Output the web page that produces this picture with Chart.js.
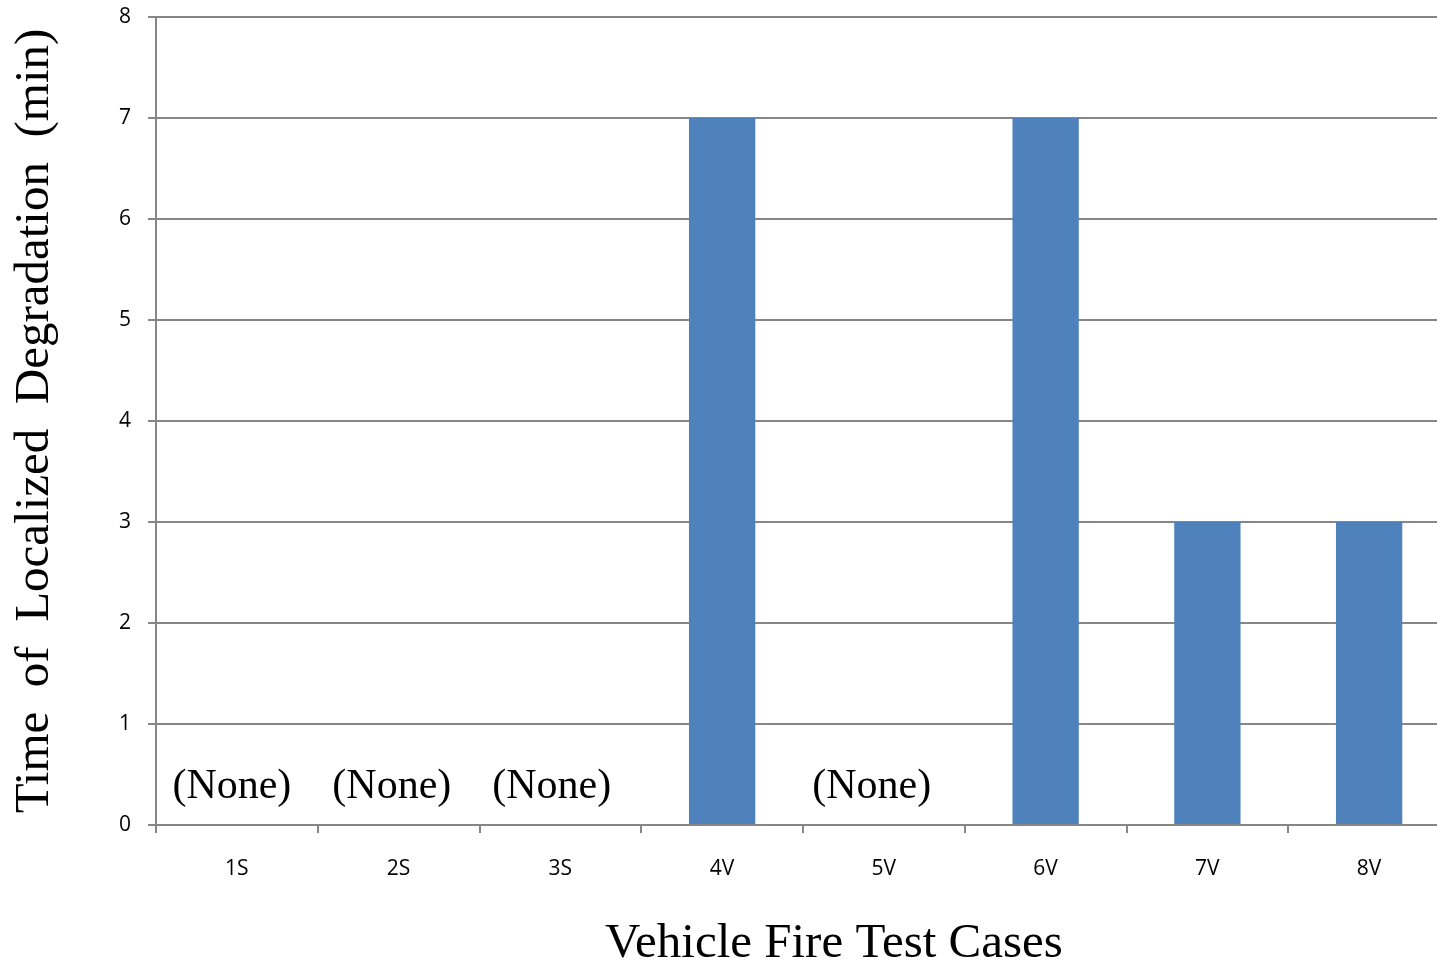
<!DOCTYPE html>
<html>
<head>
<meta charset="utf-8">
<script src="https://cdn.jsdelivr.net/npm/chart.js@4/dist/chart.umd.min.js"></script>
<style>
  html, body { margin: 0; padding: 0; background: #ffffff; overflow: hidden; }
  #wrap { width: 1437px; height: 964px; position: relative; overflow: hidden; }
</style>
</head>
<body>
<div id="wrap"><canvas id="c" width="1450" height="964"></canvas></div>
<script>
// ---- Data ----
const categories = ['1S', '2S', '3S', '4V', '5V', '6V', '7V', '8V'];
const degradationMinutes = [null, null, null, 7, null, 7, 3, 3];
const noneLabel = '(None)';
const yTicks = [0, 1, 2, 3, 4, 5, 6, 7, 8];
const yTitle = 'Time  of  Localized  Degradation  (min)';
const xTitle = 'Vehicle Fire Test Cases';

const gridColor = '#868686';
const barColor = '#4F81BD';

const noneLabelsPlugin = {
  id: 'noneLabels',
  afterDatasetsDraw(chart) {
    const ctx = chart.ctx;
    const xs = chart.scales.x, ys = chart.scales.y;
    ctx.save();
    ctx.font = '42px "Liberation Serif", "Times New Roman", serif';
    ctx.fillStyle = '#000';
    ctx.textAlign = 'center';
    ctx.textBaseline = 'middle';
    degradationMinutes.forEach((v, i) => {
      if (v === null) {
        ctx.fillText(noneLabel, xs.getPixelForValue(i) - 5 - 1.8 * i, ys.getPixelForValue(0.38));
      }
    });
    // x-axis title
    ctx.font = '49px "Liberation Serif", "Times New Roman", serif';
    ctx.fillText(xTitle, 834, 944);
    ctx.restore();
  }
};

new Chart(document.getElementById('c'), {
  type: 'bar',
  data: {
    labels: categories,
    datasets: [{
      data: degradationMinutes,
      backgroundColor: barColor,
      borderWidth: 0,
      categoryPercentage: 1.0,
      barPercentage: 0.41
    }]
  },
  options: {
    responsive: false,
    animation: false,
    devicePixelRatio: 1,
    layout: { padding: { top: 17, right: 0, left: 0, bottom: 0 } },
    plugins: {
      legend: { display: false },
      tooltip: { enabled: false },
      title: { display: false }
    },
    scales: {
      x: {
        grid: {
          display: true,
          drawOnChartArea: false,
          drawTicks: true,
          tickLength: 8,
          color: gridColor,
          lineWidth: 2,
          offset: true
        },
        border: { display: true, color: gridColor, width: 2 },
        ticks: {
          color: '#000',
          font: { family: '"Open Sans", sans-serif', size: 21 },
          padding: 23,
          maxRotation: 0
        },
        title: { display: false },
        afterFit(scale) {
          scale.height = 139;
          scale.paddingLeft = 0; scale.paddingRight = 0;
        }
      },
      y: {
        min: 0,
        max: 8,
        afterBuildTicks(scale) { scale.ticks = yTicks.map(v => ({ value: v })); },
        grid: {
          color: gridColor,
          lineWidth: 2,
          drawTicks: true,
          tickLength: 8
        },
        border: { display: true, color: gridColor, width: 2 },
        ticks: {
          color: '#000',
          font: { family: '"Open Sans", sans-serif', size: 21 },
          padding: 17,
          stepSize: 1
        },
        title: {
          display: true,
          text: yTitle,
          color: '#000',
          font: { family: '"Liberation Serif", "Times New Roman", serif', size: 49, lineHeight: 1.2 },
          padding: { top: 6, bottom: 0 }
        },
        afterFit(scale) {
          scale.width = 156;
          scale.paddingTop = 0; scale.paddingBottom = 0;
        }
      }
    }
  },
  plugins: [noneLabelsPlugin]
});
</script>
</body>
</html>
